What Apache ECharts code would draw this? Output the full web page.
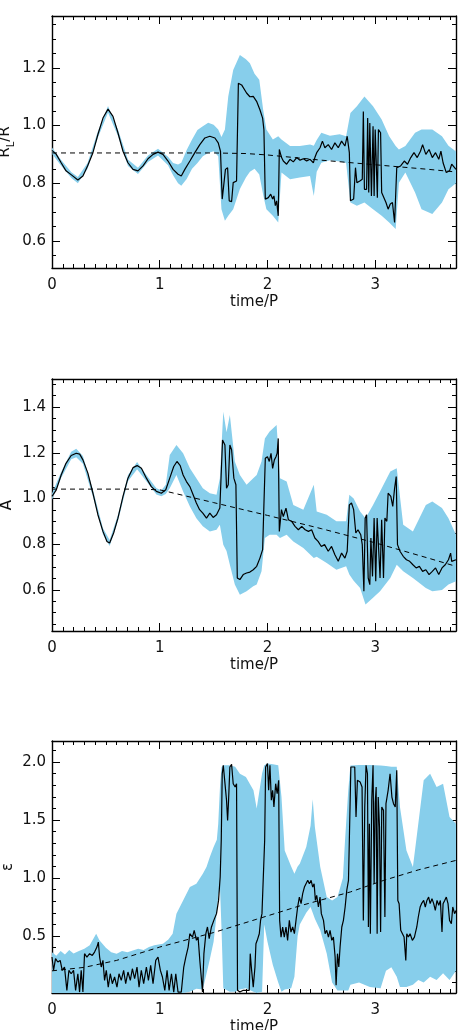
<!DOCTYPE html>
<html>
<head>
<meta charset="utf-8">
<script src="https://cdn.jsdelivr.net/npm/echarts@6/dist/echarts.min.js"></script>
<style>
    html, body { margin: 0; padding: 0; background: #fff; }
    #figure { width: 460px; height: 1030px; }
</style>
</head>
<body>
<div id="figure"></div>
<script>
// ---------- data ----------
let xRange = [0, 3.75];
let xMajor = [0, 1, 2, 3];

// panel 1 : R_L/R
let p1Range = [0.506, 1.380];
let p1Major = [0.6, 0.8, 1.0, 1.2];
let p1Time = [0.000, 0.040, 0.085, 0.130, 0.180, 0.240, 0.287, 0.330, 0.380, 0.426, 0.473, 0.520, 0.566, 0.612, 0.659, 0.705, 0.752, 0.798, 0.845, 0.891, 0.938, 0.984, 1.030, 1.077, 1.124, 1.170, 1.200, 1.233, 1.280, 1.326, 1.372, 1.419, 1.465, 1.512, 1.543, 1.564, 1.580, 1.595, 1.610, 1.630, 1.645, 1.667, 1.682, 1.713, 1.730, 1.760, 1.806, 1.837, 1.868, 1.899, 1.930, 1.955, 1.967, 1.980, 2.008, 2.030, 2.048, 2.060, 2.073, 2.085, 2.100, 2.110, 2.122, 2.131, 2.147, 2.178, 2.209, 2.240, 2.271, 2.302, 2.333, 2.364, 2.395, 2.426, 2.440, 2.457, 2.488, 2.510, 2.533, 2.564, 2.595, 2.626, 2.657, 2.688, 2.719, 2.740, 2.760, 2.770, 2.800, 2.817, 2.830, 2.857, 2.880, 2.890, 2.900, 2.920, 2.930, 2.940, 2.950, 2.965, 2.980, 2.990, 3.000, 3.020, 3.030, 3.050, 3.060, 3.070, 3.100, 3.120, 3.140, 3.160, 3.180, 3.200, 3.236, 3.270, 3.300, 3.330, 3.360, 3.390, 3.420, 3.440, 3.470, 3.500, 3.530, 3.560, 3.590, 3.610, 3.630, 3.660, 3.690, 3.710, 3.750];
let p1Mean = [0.914, 0.900, 0.871, 0.843, 0.829, 0.811, 0.825, 0.860, 0.906, 0.969, 1.026, 1.057, 1.032, 0.975, 0.911, 0.871, 0.848, 0.843, 0.860, 0.885, 0.900, 0.908, 0.900, 0.877, 0.848, 0.831, 0.825, 0.848, 0.877, 0.906, 0.934, 0.957, 0.963, 0.957, 0.940, 0.911, 0.745, 0.739, 0.848, 0.854, 0.739, 0.736, 0.802, 0.808, 1.147, 1.141, 1.113, 1.100, 1.101, 1.084, 1.055, 1.026, 0.986, 0.745, 0.750, 0.762, 0.745, 0.756, 0.722, 0.739, 0.687, 0.917, 0.911, 0.889, 0.877, 0.866, 0.883, 0.874, 0.889, 0.880, 0.885, 0.877, 0.883, 0.871, 0.889, 0.906, 0.923, 0.946, 0.923, 0.934, 0.917, 0.940, 0.923, 0.946, 0.929, 0.963, 0.906, 0.739, 0.745, 0.854, 0.802, 0.808, 0.814, 1.049, 0.779, 0.779, 1.026, 0.768, 1.009, 0.756, 0.998, 0.756, 0.986, 0.750, 0.986, 0.975, 0.768, 0.774, 0.733, 0.710, 0.728, 0.733, 0.664, 0.854, 0.860, 0.877, 0.866, 0.889, 0.906, 0.889, 0.911, 0.934, 0.900, 0.917, 0.889, 0.906, 0.883, 0.911, 0.871, 0.837, 0.843, 0.866, 0.848];
let p1BandTime = [0.000, 0.085, 0.180, 0.240, 0.330, 0.426, 0.520, 0.612, 0.705, 0.798, 0.891, 0.984, 1.077, 1.124, 1.170, 1.200, 1.250, 1.300, 1.350, 1.400, 1.450, 1.500, 1.543, 1.573, 1.605, 1.636, 1.682, 1.744, 1.800, 1.837, 1.880, 1.924, 1.960, 1.990, 2.050, 2.100, 2.130, 2.210, 2.300, 2.395, 2.430, 2.457, 2.500, 2.580, 2.670, 2.730, 2.770, 2.830, 2.900, 2.980, 3.060, 3.130, 3.190, 3.220, 3.280, 3.370, 3.430, 3.530, 3.620, 3.680, 3.750];
let p1Low = [0.902, 0.861, 0.818, 0.800, 0.850, 0.958, 1.045, 0.964, 0.860, 0.832, 0.874, 0.896, 0.862, 0.828, 0.800, 0.791, 0.815, 0.850, 0.870, 0.894, 0.905, 0.911, 0.894, 0.710, 0.670, 0.687, 0.710, 0.780, 0.820, 0.840, 0.850, 0.830, 0.760, 0.710, 0.687, 0.664, 0.837, 0.814, 0.820, 0.825, 0.756, 0.840, 0.871, 0.880, 0.875, 0.870, 0.733, 0.722, 0.733, 0.710, 0.687, 0.664, 0.641, 0.802, 0.837, 0.768, 0.710, 0.693, 0.733, 0.779, 0.800];
let p1High = [0.924, 0.881, 0.838, 0.822, 0.870, 0.980, 1.068, 0.986, 0.882, 0.854, 0.896, 0.920, 0.892, 0.870, 0.865, 0.871, 0.915, 0.952, 0.985, 0.998, 1.010, 1.003, 0.986, 0.960, 0.986, 1.101, 1.193, 1.245, 1.230, 1.216, 1.180, 1.159, 1.055, 0.986, 0.952, 0.963, 0.952, 0.929, 0.929, 0.934, 0.930, 0.950, 0.975, 0.965, 0.970, 0.963, 1.044, 1.067, 1.101, 1.067, 1.021, 0.963, 0.929, 0.917, 0.929, 0.975, 0.986, 0.986, 0.963, 0.930, 0.910];
let p1TrendTime = [0, 1.0, 1.5, 1.8, 2.0, 2.5, 3.0, 3.5, 3.75];
let p1Trend = [0.905, 0.905, 0.905, 0.903, 0.898, 0.880, 0.864, 0.848, 0.839];

// panel 2 : A
let p2Range = [0.420, 1.523];
let p2Major = [0.6, 0.8, 1.0, 1.2, 1.4];
let p2Time = [0.000, 0.040, 0.085, 0.130, 0.178, 0.225, 0.257, 0.287, 0.333, 0.380, 0.426, 0.473, 0.510, 0.535, 0.572, 0.612, 0.659, 0.705, 0.752, 0.790, 0.830, 0.876, 0.922, 0.969, 1.015, 1.056, 1.093, 1.130, 1.160, 1.190, 1.217, 1.248, 1.280, 1.310, 1.340, 1.370, 1.400, 1.434, 1.465, 1.496, 1.527, 1.558, 1.574, 1.583, 1.605, 1.620, 1.636, 1.651, 1.667, 1.688, 1.707, 1.720, 1.744, 1.775, 1.806, 1.837, 1.868, 1.900, 1.930, 1.955, 1.967, 1.980, 2.000, 2.017, 2.033, 2.048, 2.064, 2.079, 2.090, 2.100, 2.110, 2.130, 2.147, 2.172, 2.194, 2.225, 2.256, 2.287, 2.318, 2.350, 2.380, 2.410, 2.440, 2.470, 2.500, 2.530, 2.564, 2.595, 2.626, 2.657, 2.688, 2.719, 2.740, 2.760, 2.780, 2.800, 2.820, 2.840, 2.866, 2.880, 2.895, 2.907, 2.920, 2.935, 2.950, 2.960, 2.975, 2.990, 3.005, 3.018, 3.033, 3.045, 3.060, 3.077, 3.090, 3.108, 3.120, 3.145, 3.163, 3.180, 3.195, 3.207, 3.230, 3.260, 3.290, 3.320, 3.350, 3.380, 3.410, 3.440, 3.470, 3.500, 3.530, 3.560, 3.590, 3.620, 3.650, 3.680, 3.700, 3.710, 3.750];
let p2Mean = [1.009, 1.038, 1.103, 1.154, 1.188, 1.198, 1.194, 1.169, 1.111, 1.023, 0.929, 0.856, 0.812, 0.805, 0.849, 0.914, 1.009, 1.089, 1.135, 1.144, 1.132, 1.089, 1.052, 1.031, 1.023, 1.038, 1.089, 1.140, 1.162, 1.144, 1.103, 1.074, 1.052, 1.016, 0.980, 0.951, 0.936, 0.914, 0.936, 0.917, 0.929, 0.958, 0.965, 1.256, 1.234, 1.045, 1.060, 1.234, 1.213, 1.089, 1.060, 0.652, 0.645, 0.667, 0.674, 0.678, 0.688, 0.703, 0.739, 0.776, 0.972, 1.176, 1.183, 1.162, 1.198, 1.132, 1.169, 1.183, 1.198, 1.263, 0.856, 0.951, 0.921, 0.958, 0.907, 0.900, 0.878, 0.863, 0.878, 0.863, 0.856, 0.863, 0.827, 0.812, 0.790, 0.798, 0.769, 0.790, 0.754, 0.725, 0.761, 0.739, 0.769, 0.972, 0.980, 0.951, 0.849, 0.863, 0.841, 0.798, 0.594, 0.914, 0.929, 0.652, 0.623, 0.827, 0.659, 0.914, 0.638, 0.914, 0.907, 0.652, 0.907, 0.652, 0.914, 0.900, 1.023, 1.009, 0.965, 1.045, 1.096, 0.798, 0.769, 0.747, 0.732, 0.725, 0.710, 0.696, 0.703, 0.681, 0.688, 0.667, 0.681, 0.696, 0.667, 0.696, 0.710, 0.732, 0.761, 0.725, 0.732];
let p2BandTime = [0.000, 0.085, 0.178, 0.225, 0.287, 0.380, 0.473, 0.535, 0.612, 0.705, 0.790, 0.876, 0.969, 1.015, 1.056, 1.093, 1.155, 1.217, 1.280, 1.340, 1.400, 1.465, 1.527, 1.558, 1.590, 1.620, 1.651, 1.697, 1.744, 1.806, 1.868, 1.900, 1.945, 1.976, 2.020, 2.085, 2.116, 2.178, 2.240, 2.333, 2.430, 2.457, 2.550, 2.640, 2.730, 2.760, 2.800, 2.860, 2.910, 2.980, 3.045, 3.140, 3.200, 3.260, 3.350, 3.410, 3.470, 3.530, 3.620, 3.680, 3.750];
let p2Low = [0.995, 1.090, 1.172, 1.180, 1.152, 1.008, 0.842, 0.792, 0.900, 1.075, 1.128, 1.075, 1.018, 1.010, 1.020, 1.045, 1.103, 1.031, 0.965, 0.914, 0.878, 0.856, 0.863, 0.885, 0.798, 0.770, 0.710, 0.623, 0.579, 0.594, 0.616, 0.623, 0.681, 0.827, 0.841, 0.841, 0.827, 0.841, 0.812, 0.783, 0.739, 0.745, 0.718, 0.688, 0.703, 0.667, 0.640, 0.608, 0.536, 0.565, 0.594, 0.652, 0.710, 0.681, 0.652, 0.630, 0.608, 0.594, 0.600, 0.623, 0.638];
let p2High = [1.022, 1.116, 1.205, 1.218, 1.186, 1.038, 0.870, 0.818, 0.928, 1.103, 1.160, 1.103, 1.045, 1.036, 1.060, 1.190, 1.234, 1.198, 1.132, 1.089, 1.045, 1.023, 1.016, 1.089, 1.380, 1.290, 1.365, 1.162, 1.103, 1.060, 1.089, 1.103, 1.162, 1.263, 1.293, 1.322, 1.089, 1.074, 0.972, 0.951, 1.060, 0.943, 0.929, 0.900, 0.900, 1.016, 1.000, 0.943, 0.914, 0.972, 1.031, 1.118, 1.132, 0.885, 0.856, 0.914, 0.972, 0.987, 0.958, 0.914, 0.841];
let p2TrendTime = [0, 0.8, 1.0, 1.25, 1.5, 2.0, 2.5, 3.0, 3.5, 3.75];
let p2Trend = [1.041, 1.041, 1.038, 1.010, 0.982, 0.926, 0.868, 0.806, 0.738, 0.703];

// panel 3 : epsilon
let p3Range = [0.009, 2.181];
let p3Major = [0.5, 1.0, 1.5, 2.0];
let p3Time = [0.000, 0.014, 0.033, 0.054, 0.076, 0.095, 0.116, 0.138, 0.157, 0.178, 0.200, 0.219, 0.240, 0.256, 0.271, 0.287, 0.302, 0.324, 0.349, 0.374, 0.395, 0.417, 0.430, 0.442, 0.457, 0.473, 0.488, 0.504, 0.522, 0.541, 0.560, 0.581, 0.603, 0.622, 0.643, 0.665, 0.684, 0.705, 0.727, 0.746, 0.767, 0.789, 0.808, 0.829, 0.851, 0.876, 0.895, 0.916, 0.938, 0.963, 0.984, 1.006, 1.025, 1.047, 1.068, 1.087, 1.109, 1.130, 1.149, 1.170, 1.200, 1.223, 1.242, 1.264, 1.279, 1.304, 1.320, 1.341, 1.356, 1.372, 1.388, 1.397, 1.410, 1.428, 1.443, 1.459, 1.480, 1.502, 1.527, 1.546, 1.561, 1.571, 1.580, 1.590, 1.605, 1.620, 1.630, 1.639, 1.651, 1.667, 1.682, 1.700, 1.713, 1.722, 1.744, 1.775, 1.806, 1.831, 1.840, 1.853, 1.868, 1.884, 1.893, 1.905, 1.924, 1.936, 1.949, 1.961, 1.974, 1.983, 2.000, 2.011, 2.023, 2.036, 2.048, 2.060, 2.076, 2.090, 2.104, 2.113, 2.126, 2.141, 2.156, 2.172, 2.187, 2.203, 2.218, 2.234, 2.250, 2.265, 2.280, 2.296, 2.312, 2.327, 2.343, 2.358, 2.374, 2.389, 2.405, 2.420, 2.433, 2.445, 2.457, 2.473, 2.488, 2.500, 2.520, 2.535, 2.550, 2.566, 2.581, 2.597, 2.612, 2.628, 2.637, 2.650, 2.662, 2.674, 2.690, 2.705, 2.721, 2.736, 2.752, 2.760, 2.774, 2.792, 2.810, 2.822, 2.835, 2.860, 2.878, 2.890, 2.903, 2.915, 2.928, 2.937, 2.946, 2.955, 2.968, 2.980, 2.990, 3.000, 3.009, 3.018, 3.028, 3.040, 3.050, 3.061, 3.077, 3.090, 3.100, 3.120, 3.138, 3.155, 3.170, 3.186, 3.200, 3.210, 3.222, 3.237, 3.253, 3.268, 3.284, 3.293, 3.308, 3.324, 3.345, 3.364, 3.386, 3.400, 3.417, 3.430, 3.450, 3.465, 3.480, 3.496, 3.510, 3.527, 3.543, 3.558, 3.574, 3.590, 3.605, 3.620, 3.630, 3.645, 3.660, 3.676, 3.690, 3.707, 3.720, 3.737, 3.750];
let p3Mean = [0.319, 0.204, 0.305, 0.276, 0.290, 0.204, 0.233, 0.032, 0.204, 0.175, 0.204, 0.032, 0.175, 0.017, 0.204, 0.017, 0.348, 0.319, 0.348, 0.333, 0.362, 0.405, 0.448, 0.319, 0.233, 0.290, 0.118, 0.204, 0.060, 0.175, 0.089, 0.147, 0.060, 0.175, 0.118, 0.204, 0.089, 0.190, 0.118, 0.218, 0.132, 0.233, 0.060, 0.204, 0.089, 0.233, 0.118, 0.247, 0.089, 0.290, 0.319, 0.204, 0.147, 0.032, 0.204, 0.032, 0.175, 0.017, 0.175, 0.017, 0.017, 0.233, 0.319, 0.405, 0.520, 0.491, 0.549, 0.463, 0.491, 0.290, 0.118, 0.017, 0.348, 0.520, 0.578, 0.477, 0.578, 0.635, 0.693, 0.807, 1.009, 1.325, 1.899, 1.971, 1.957, 1.670, 1.497, 1.670, 1.957, 1.980, 1.813, 1.784, 1.813, 0.032, 0.017, 0.032, 0.032, 0.032, 0.348, 0.204, 0.060, 0.233, 0.434, 0.463, 0.520, 0.635, 0.693, 0.693, 1.325, 1.957, 1.986, 1.756, 1.971, 1.670, 1.756, 1.612, 1.813, 1.727, 1.842, 0.635, 0.491, 0.578, 0.491, 0.578, 0.463, 0.635, 0.534, 0.578, 0.520, 0.635, 0.750, 0.836, 0.779, 0.865, 0.922, 0.951, 0.980, 0.951, 0.980, 0.922, 0.951, 0.807, 0.851, 0.750, 0.836, 0.693, 0.635, 0.520, 0.549, 0.491, 0.549, 0.463, 0.491, 0.319, 0.075, 0.348, 0.233, 0.405, 0.578, 0.635, 0.750, 0.894, 0.980, 1.325, 1.957, 1.971, 1.957, 1.526, 1.842, 1.828, 1.784, 0.635, 1.612, 1.971, 1.899, 0.578, 1.468, 0.520, 1.670, 1.971, 0.951, 1.641, 1.784, 0.520, 1.698, 1.440, 0.534, 1.612, 1.583, 0.664, 1.641, 1.756, 1.899, 1.698, 1.641, 1.612, 1.928, 0.807, 0.779, 0.549, 0.520, 0.491, 0.290, 0.520, 0.491, 0.520, 0.463, 0.491, 0.578, 0.664, 0.750, 0.779, 0.807, 0.750, 0.807, 0.836, 0.779, 0.822, 0.779, 0.721, 0.807, 0.764, 0.807, 0.534, 0.779, 0.807, 0.836, 0.779, 0.635, 0.606, 0.750, 0.693, 0.721];
let p3BandTime = [0.000, 0.040, 0.080, 0.120, 0.160, 0.200, 0.250, 0.300, 0.350, 0.410, 0.440, 0.500, 0.550, 0.600, 0.650, 0.700, 0.750, 0.800, 0.850, 0.900, 0.950, 1.030, 1.080, 1.120, 1.155, 1.217, 1.280, 1.340, 1.400, 1.434, 1.465, 1.500, 1.530, 1.543, 1.560, 1.574, 1.590, 1.650, 1.700, 1.744, 1.800, 1.870, 1.900, 1.950, 1.970, 2.000, 2.050, 2.100, 2.130, 2.160, 2.220, 2.250, 2.280, 2.300, 2.360, 2.400, 2.420, 2.440, 2.490, 2.550, 2.600, 2.650, 2.700, 2.720, 2.750, 2.770, 2.850, 2.950, 3.050, 3.100, 3.150, 3.200, 3.230, 3.290, 3.350, 3.400, 3.450, 3.510, 3.570, 3.630, 3.690, 3.750];
let p3Low = [0.009, 0.009, 0.009, 0.009, 0.009, 0.009, 0.009, 0.009, 0.009, 0.009, 0.009, 0.009, 0.009, 0.009, 0.009, 0.009, 0.009, 0.009, 0.009, 0.009, 0.009, 0.009, 0.009, 0.009, 0.009, 0.009, 0.020, 0.046, 0.040, 0.175, 0.300, 0.450, 0.700, 0.850, 0.900, 0.550, 0.050, 0.020, 0.020, 0.040, 0.050, 0.020, 0.010, 0.020, 0.600, 0.450, 0.250, 0.100, 0.020, 0.040, 0.050, 0.150, 0.500, 0.600, 0.700, 0.750, 0.700, 0.650, 0.550, 0.350, 0.100, 0.030, 0.030, 0.030, 0.030, 0.080, 0.100, 0.060, 0.050, 0.200, 0.230, 0.150, 0.060, 0.060, 0.080, 0.120, 0.100, 0.150, 0.120, 0.180, 0.120, 0.200];
let p3High = [0.360, 0.330, 0.370, 0.340, 0.380, 0.350, 0.370, 0.390, 0.420, 0.520, 0.463, 0.400, 0.360, 0.348, 0.370, 0.360, 0.376, 0.390, 0.380, 0.405, 0.420, 0.434, 0.470, 0.520, 0.693, 0.807, 0.922, 0.951, 1.037, 1.095, 1.181, 1.267, 1.330, 1.468, 1.800, 1.957, 1.971, 1.971, 1.960, 1.899, 1.870, 1.756, 1.600, 1.900, 1.971, 1.986, 1.980, 1.971, 1.700, 1.238, 1.100, 1.037, 1.100, 1.124, 1.267, 1.450, 1.680, 1.440, 1.095, 0.836, 0.807, 0.836, 1.000, 1.325, 1.756, 1.970, 1.975, 1.975, 1.970, 1.965, 1.960, 1.960, 1.612, 1.238, 1.095, 1.468, 1.842, 1.899, 1.784, 1.813, 1.526, 1.468];
let p3TrendTime = [0, 0.3, 0.6, 1.0, 1.5, 1.9, 2.3, 2.77, 3.08, 3.4, 3.75];
let p3Trend = [0.200, 0.230, 0.290, 0.405, 0.530, 0.645, 0.760, 0.880, 0.980, 1.070, 1.152];

// ---------- drawing ----------
let fontFamily = 'DejaVu Sans';
let textColor = '#111';
let bandColor = '#87ceeb';

function minor_ticks(range, step, major) {
    let out = [];
    let k = Math.ceil(range[0] / step - 1e-6);
    for (; k * step <= range[1] + 1e-9; k++) {
        let v = Math.round(k * step * 1000) / 1000;
        if (major.indexOf(v) < 0) out.push(v);
    }
    return out;
}

function make_axis(grid, pos, range, ticks, len, withLabels) {
    let isX = (pos === 'bottom' || pos === 'top');
    let axis = {
        type: 'value',
        gridIndex: grid,
        position: pos,
        min: range[0],
        max: range[1],
        axisLine: {show: len > 5, onZero: false, lineStyle: {color: '#000', width: 1.4}},
        axisTick: {show: true, inside: true, length: len, customValues: ticks, lineStyle: {color: '#000', width: 1}},
        axisLabel: {show: false},
        splitLine: {show: false}
    };
    if (withLabels) {
        axis.axisLabel = {
            show: true,
            customValues: ticks,
            margin: isX ? 10 : 6,
            color: textColor,
            fontFamily: fontFamily,
            fontSize: 15,
            formatter: isX ? function (v) { return String(v); } : function (v) { return v.toFixed(1); }
        };
    }
    return axis;
}

function band_series(idx, time, low, high) {
    return {
        type: 'custom',
        xAxisIndex: idx * 4,
        yAxisIndex: idx * 4,
        silent: true,
        z: 1,
        data: [[time[0], low[0]]],
        renderItem: function (params, api) {
            let pts = [];
            for (let i = 0; i < time.length; i++) {
                pts.push(api.coord([time[i], high[i]]));
            }
            for (let i = time.length - 1; i >= 0; i--) {
                pts.push(api.coord([time[i], low[i]]));
            }
            return {type: 'polygon', shape: {points: pts}, style: {fill: bandColor}};
        }
    };
}

function line_series(idx, time, vals, dashed) {
    let data = [];
    for (let i = 0; i < time.length; i++) {
        data.push([time[i], vals[i]]);
    }
    return {
        type: 'line',
        xAxisIndex: idx * 4,
        yAxisIndex: idx * 4,
        data: data,
        symbol: 'none',
        silent: true,
        z: dashed ? 4 : 3,
        lineStyle: {color: '#000', width: dashed ? 1 : 1.2, type: dashed ? [5, 4] : 'solid'}
    };
}

let panels = [
    {top: 16, range: p1Range, major: p1Major, step: 0.05, name: 'R{sub|L}/R', gap: 36,
        time: p1Time, mean: p1Mean, bt: p1BandTime, lo: p1Low, hi: p1High, tt: p1TrendTime, tr: p1Trend},
    {top: 379, range: p2Range, major: p2Major, step: 0.05, name: 'A', gap: 37,
        time: p2Time, mean: p2Mean, bt: p2BandTime, lo: p2Low, hi: p2High, tt: p2TrendTime, tr: p2Trend},
    {top: 741, range: p3Range, major: p3Major, step: 0.1, name: 'ε', gap: 36,
        time: p3Time, mean: p3Mean, bt: p3BandTime, lo: p3Low, hi: p3High, tt: p3TrendTime, tr: p3Trend}
];

let grids = [], xAxes = [], yAxes = [], series = [];
let xMinor = minor_ticks(xRange, 0.1, xMajor);

for (let i = 0; i < panels.length; i++) {
    let p = panels[i];
    let yMinor = minor_ticks(p.range, p.step, p.major);
    grids.push({left: 52, top: p.top, width: 404, height: 252, containLabel: false, outerBoundsMode: 'none'});

    let xb = make_axis(i, 'bottom', xRange, xMajor, 8, true);
    xb.name = 'time/P';
    xb.nameLocation = 'middle';
    xb.nameGap = 27;
    xb.nameMoveOverlap = false;
    xb.nameTextStyle = {fontFamily: fontFamily, fontSize: 15, color: textColor};
    xAxes.push(xb, make_axis(i, 'bottom', xRange, xMinor, 4, false),
        make_axis(i, 'top', xRange, xMajor, 8, false), make_axis(i, 'top', xRange, xMinor, 4, false));

    let yl = make_axis(i, 'left', p.range, p.major, 8, true);
    yl.name = p.name;
    yl.nameLocation = 'middle';
    yl.nameGap = p.gap;
    yl.nameMoveOverlap = false;
    yl.nameTextStyle = {
        fontFamily: fontFamily, fontSize: 15, color: textColor,
        rich: {sub: {fontFamily: fontFamily, fontSize: 10, color: textColor, verticalAlign: 'bottom', lineHeight: 22}}
    };
    yAxes.push(yl, make_axis(i, 'left', p.range, yMinor, 4, false),
        make_axis(i, 'right', p.range, p.major, 8, false), make_axis(i, 'right', p.range, yMinor, 4, false));

    series.push(band_series(i, p.bt, p.lo, p.hi));
    series.push(line_series(i, p.time, p.mean, false));
    series.push(line_series(i, p.tt, p.tr, true));
}

let myChart = echarts.init(document.getElementById('figure'));
myChart.setOption({
    animation: false,
    backgroundColor: '#fff',
    grid: grids,
    xAxis: xAxes,
    yAxis: yAxes,
    series: series
});
</script>
</body>
</html>
